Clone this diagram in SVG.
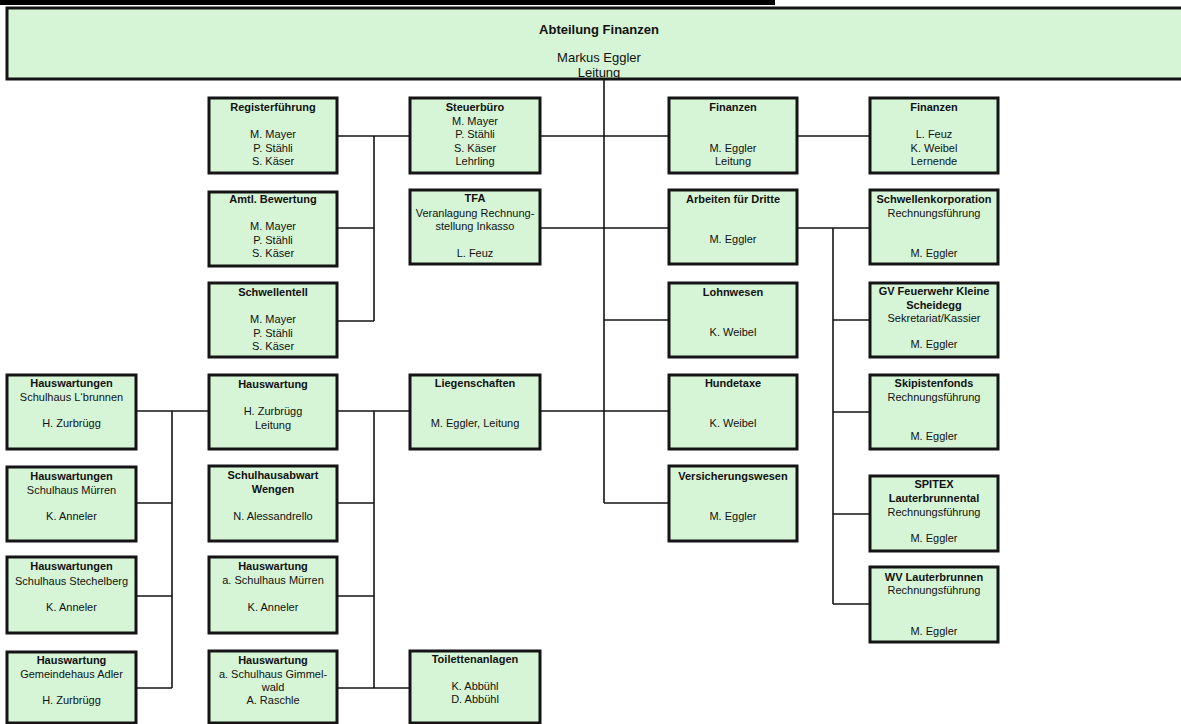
<svg xmlns="http://www.w3.org/2000/svg" width="1181" height="724" viewBox="0 0 1181 724">
<style>
.b{fill:#d6f5d6;stroke:#141414;stroke-width:3}
text{font-family:"Liberation Sans",Arial,sans-serif;font-size:11px;fill:#111;text-anchor:middle}
.t{font-weight:bold}
.h{font-size:13px}
.c{fill:none;stroke:#141414;stroke-width:1.6}
</style>
<rect x="0" y="0" width="775" height="5" fill="#000"/>
<g id="root">
<rect class="b" x="7" y="8" width="1180" height="71"/>
<text class="t h" x="599" y="34">Abteilung Finanzen</text>
<text class="h" x="599" y="62">Markus Eggler</text>
<text class="h" x="599" y="77">Leitung</text>
</g>
<g id="connectors">
<path class="c" d="M604,80V503M337,136H410M374,136V321M337,228H374M337,321H374M540,136H669M797,136H870M540,228H669M797,228H870M833,228V604M833,320H870M833,412H870M833,514H870M833,604H870M604,320H669M540,411H669M604,503H669M337,411H410M374,411V688M337,503H374M337,596H374M337,688H410M136,411H209M172,411V688M136,503H172M136,596H172M136,688H172"/>
</g>
<g id="registerfuehrung">
<rect class="b" x="209" y="98" width="128" height="75"/>
<text class="t" x="273" y="111">Registerführung</text>
<text x="273" y="138">M. Mayer</text>
<text x="273" y="151.5">P. Stähli</text>
<text x="273" y="165">S. Käser</text>
</g>
<g id="amtl-bewertung">
<rect class="b" x="209" y="192" width="128" height="74"/>
<text class="t" x="273" y="203">Amtl. Bewertung</text>
<text x="273" y="230">M. Mayer</text>
<text x="273" y="243.5">P. Stähli</text>
<text x="273" y="257">S. Käser</text>
</g>
<g id="schwellenteil">
<rect class="b" x="209" y="283" width="128" height="74"/>
<text class="t" x="273" y="296">Schwellentell</text>
<text x="273" y="323">M. Mayer</text>
<text x="273" y="336.5">P. Stähli</text>
<text x="273" y="350">S. Käser</text>
</g>
<g id="hauswartung">
<rect class="b" x="209" y="375" width="128" height="74"/>
<text class="t" x="273" y="388">Hauswartung</text>
<text x="273" y="415">H. Zurbrügg</text>
<text x="273" y="428.5">Leitung</text>
</g>
<g id="schulhausabwart">
<rect class="b" x="209" y="466" width="128" height="75"/>
<text class="t" x="273" y="479">Schulhausabwart</text>
<text class="t" x="273" y="492.5">Wengen</text>
<text x="273" y="519.5">N. Alessandrello</text>
</g>
<g id="hauswartung-muerren">
<rect class="b" x="209" y="557" width="128" height="76"/>
<text class="t" x="273" y="570">Hauswartung</text>
<text x="273" y="583.5">a. Schulhaus Mürren</text>
<text x="273" y="610.5">K. Anneler</text>
</g>
<g id="hauswartung-gimmelwald">
<rect class="b" x="209" y="651" width="128" height="72"/>
<text class="t" x="273" y="664">Hauswartung</text>
<text x="273" y="677.5">a. Schulhaus Gimmel-</text>
<text x="273" y="691">wald</text>
<text x="273" y="704">A. Raschle</text>
</g>
<g id="steuerbuero">
<rect class="b" x="410" y="98" width="130" height="75"/>
<text class="t" x="475" y="111">Steuerbüro</text>
<text x="475" y="124.5">M. Mayer</text>
<text x="475" y="138">P. Stähli</text>
<text x="475" y="151.5">S. Käser</text>
<text x="475" y="165">Lehrling</text>
</g>
<g id="tfa">
<rect class="b" x="410" y="190" width="130" height="74"/>
<text class="t" x="475" y="202">TFA</text>
<text x="475" y="216.5">Veranlagung Rechnung-</text>
<text x="475" y="230">stellung Inkasso</text>
<text x="475" y="257">L. Feuz</text>
</g>
<g id="liegenschaften">
<rect class="b" x="410" y="375" width="130" height="74"/>
<text class="t" x="475" y="387">Liegenschaften</text>
<text x="475" y="427">M. Eggler, Leitung</text>
</g>
<g id="toilettenanlagen">
<rect class="b" x="410" y="651" width="130" height="72"/>
<text class="t" x="475" y="663">Toilettenanlagen</text>
<text x="475" y="690">K. Abbühl</text>
<text x="475" y="703">D. Abbühl</text>
</g>
<g id="finanzen-leitung">
<rect class="b" x="669" y="98" width="128" height="75"/>
<text class="t" x="733" y="111">Finanzen</text>
<text x="733" y="151.5">M. Eggler</text>
<text x="733" y="165">Leitung</text>
</g>
<g id="arbeiten-fuer-dritte">
<rect class="b" x="669" y="190" width="128" height="74"/>
<text class="t" x="733" y="203">Arbeiten für Dritte</text>
<text x="733" y="243">M. Eggler</text>
</g>
<g id="lohnwesen">
<rect class="b" x="669" y="283" width="128" height="74"/>
<text class="t" x="733" y="296">Lohnwesen</text>
<text x="733" y="336">K. Weibel</text>
</g>
<g id="hundetaxe">
<rect class="b" x="669" y="375" width="128" height="74"/>
<text class="t" x="733" y="387">Hundetaxe</text>
<text x="733" y="427">K. Weibel</text>
</g>
<g id="versicherungswesen">
<rect class="b" x="669" y="466" width="128" height="75"/>
<text class="t" x="733" y="480">Versicherungswesen</text>
<text x="733" y="520">M. Eggler</text>
</g>
<g id="finanzen-team">
<rect class="b" x="870" y="98" width="128" height="75"/>
<text class="t" x="934" y="111">Finanzen</text>
<text x="934" y="138">L. Feuz</text>
<text x="934" y="151.5">K. Weibel</text>
<text x="934" y="165">Lernende</text>
</g>
<g id="schwellenkorporation">
<rect class="b" x="870" y="190" width="128" height="74"/>
<text class="t" x="934" y="203">Schwellenkorporation</text>
<text x="934" y="216.5">Rechnungsführung</text>
<text x="934" y="257">M. Eggler</text>
</g>
<g id="gv-feuerwehr">
<rect class="b" x="870" y="283" width="128" height="74"/>
<text class="t" x="934" y="295">GV Feuerwehr Kleine</text>
<text class="t" x="934" y="308.5">Scheidegg</text>
<text x="934" y="322">Sekretariat/Kassier</text>
<text x="934" y="348">M. Eggler</text>
</g>
<g id="skipistenfonds">
<rect class="b" x="870" y="375" width="128" height="74"/>
<text class="t" x="934" y="387">Skipistenfonds</text>
<text x="934" y="400.5">Rechnungsführung</text>
<text x="934" y="440">M. Eggler</text>
</g>
<g id="spitex">
<rect class="b" x="870" y="476" width="128" height="75"/>
<text class="t" x="934" y="488">SPITEX</text>
<text class="t" x="934" y="501.5">Lauterbrunnental</text>
<text x="934" y="516">Rechnungsführung</text>
<text x="934" y="542">M. Eggler</text>
</g>
<g id="wv-lauterbrunnen">
<rect class="b" x="870" y="567" width="128" height="75"/>
<text class="t" x="934" y="581">WV Lauterbrunnen</text>
<text x="934" y="594">Rechnungsführung</text>
<text x="934" y="634.5">M. Eggler</text>
</g>
<g id="hw-lbrunnen">
<rect class="b" x="7" y="375" width="129" height="74"/>
<text class="t" x="71.5" y="387">Hauswartungen</text>
<text x="71.5" y="400.5">Schulhaus L‘brunnen</text>
<text x="71.5" y="427">H. Zurbrügg</text>
</g>
<g id="hw-muerren">
<rect class="b" x="7" y="467" width="129" height="74"/>
<text class="t" x="71.5" y="480">Hauswartungen</text>
<text x="71.5" y="493.5">Schulhaus Mürren</text>
<text x="71.5" y="519.5">K. Anneler</text>
</g>
<g id="hw-stechelberg">
<rect class="b" x="7" y="557" width="129" height="76"/>
<text class="t" x="71.5" y="570">Hauswartungen</text>
<text x="71.5" y="584.5">Schulhaus Stechelberg</text>
<text x="71.5" y="611">K. Anneler</text>
</g>
<g id="hw-adler">
<rect class="b" x="7" y="652" width="129" height="71"/>
<text class="t" x="71.5" y="664">Hauswartung</text>
<text x="71.5" y="677.5">Gemeindehaus Adler</text>
<text x="71.5" y="704">H. Zurbrügg</text>
</g>
</svg>
